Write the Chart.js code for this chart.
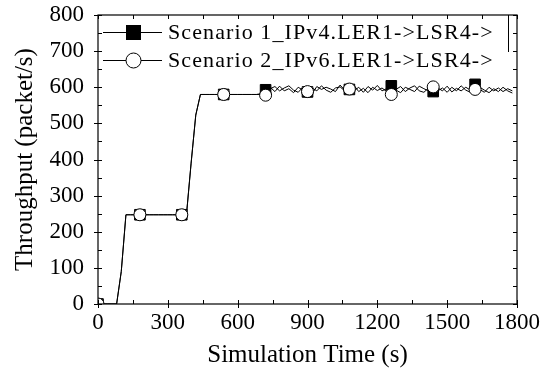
<!DOCTYPE html>
<html><head><meta charset="utf-8">
<script src="https://cdn.jsdelivr.net/npm/chart.js@4/dist/chart.umd.min.js"></script>
<style>html,body{margin:0;padding:0;background:#fff}#wrap{width:553px;height:372px}</style>
</head><body><div id="wrap"><canvas id="c" width="553" height="372"></canvas></div>
<script>
const times = [0,20,40,60,80,100,120,140,160,180,200,220,240,260,280,300,320,340,360,380,
  400,420,440,460,480,500,520,540,560,580,600,620,640,660,680,700,720,740,760,780,
  800,820,840,860,880,900,920,940,960,980,1000,1020,1040,1060,1080,1100,1120,1140,1160,1180,
  1200,1220,1240,1260,1280,1300,1320,1340,1360,1380,1400,1420,1440,1460,1480,1500,1520,1540,1560,1580,
  1600,1620,1640,1660,1680,1700,1720,1740,1760,1780];
const series1Label = 'Scenario 1_IPv4.LER1->LSR4->';
const series2Label = 'Scenario 2_IPv6.LER1->LSR4->';
const series1 = [0,0,0,0,0,90,247,247,247,247,247,247,247,247,247,247,247,247,247,247,
  390,523,580,580,580,580,580,580,580,580,580,580,580,580,580,
  582,593,600,588,603, 590,596,585,600,592, 587,598,590,604,592, 586,598,601,590,594,
  605,588,597,585,600, 591,598,588,604,592, 585,600,594,588,603, 596,590,588,598,590,
  603,587,597,590,600, 592,608,594,586,600, 590,598,588,596,590];
const series2 = [0,0,0,0,0,90,247,247,247,247,247,247,247,247,247,247,247,247,247,247,
  390,523,580,580,580,580,580,580,580,580,580,580,580,580,580,
  580,578,596,602,590, 598,604,592,586,600, 588,582,602,594,600, 595,588,606,592,595,
  590,600,586,602,592, 605,590,596,580,594, 602,588,598,604,590, 586,598,601,590,598,
  586,600,590,604,592, 586,594,600,592,585, 596,588,600,590,584];
const xTicks = [0,300,600,900,1200,1500,1800];
const yTicks = [0,100,200,300,400,500,600,700,800];
const xTitle = 'Simulation Time (s)';
const yTitle = 'Throughput (packet/s)';

const FONT = "'Liberation Serif', 'Times New Roman', serif";
const markEvery = 9;

const framePlugin = {
  id: 'frame',
  afterDraw(chart) {
    const {ctx, chartArea: a, scales: {x, y}} = chart;
    ctx.save();
    ctx.strokeStyle = '#000';
    ctx.lineWidth = 1.2;
    ctx.strokeRect(a.left, a.top, a.right - a.left, a.bottom - a.top);
    ctx.lineWidth = 1;
    ctx.beginPath();
    for (let v = 0; v <= 1800; v += 150) {
      const px = Math.round(x.getPixelForValue(v)) + 0.5;
      ctx.moveTo(px, a.bottom); ctx.lineTo(px, a.bottom - 4);
      ctx.moveTo(px, a.top); ctx.lineTo(px, a.top + 4);
      if (xTicks.includes(v)) { ctx.moveTo(px, a.bottom); ctx.lineTo(px, a.bottom + 4); }
    }
    for (let v = 0; v <= 800; v += 50) {
      const py = Math.round(y.getPixelForValue(v)) + 0.5;
      ctx.moveTo(a.left, py); ctx.lineTo(a.left + 4, py);
      ctx.moveTo(a.right, py); ctx.lineTo(a.right - 4, py);
      if (yTicks.includes(v)) { ctx.moveTo(a.left, py); ctx.lineTo(a.left - 4, py); }
    }
    ctx.stroke();
    // legend
    const rows = [
      {label: series1Label, style: 'rect', y: 32},
      {label: series2Label, style: 'circle', y: 60}
    ];
    ctx.beginPath();
    ctx.moveTo(508.5, a.top); ctx.lineTo(508.5, 52);
    ctx.stroke();
    rows.forEach(r => {
      ctx.beginPath();
      ctx.lineWidth = 1;
      ctx.moveTo(103, r.y + 0.5); ctx.lineTo(162, r.y + 0.5);
      ctx.stroke();
      if (r.style === 'rect') {
        ctx.fillStyle = '#000';
        ctx.fillRect(126, r.y - 7, 15, 15);
      } else {
        ctx.beginPath();
        ctx.fillStyle = '#fff';
        ctx.arc(133.5, r.y + 0.5, 7.5, 0, Math.PI * 2);
        ctx.fill(); ctx.stroke();
      }
      ctx.fillStyle = '#000';
      ctx.font = '22px ' + FONT;
      ctx.textBaseline = 'middle';
      ctx.textAlign = 'left';
      ctx.letterSpacing = '1.1px';
      ctx.fillText(r.label, 168, r.y + 1);
      ctx.letterSpacing = '0px';
    });
    ctx.restore();
  }
};

new Chart(document.getElementById('c'), {
  type: 'line',
  data: {
    labels: times,
    datasets: [
      {
        label: series2Label,
        data: times.map((t, i) => ({x: t, y: series2[i]})),
        borderColor: '#000', borderWidth: 1,
        pointStyle: 'circle',
        pointRadius: c => (c.dataIndex % markEvery === 0 ? 6 : 0),
        pointBackgroundColor: '#fff', pointBorderColor: '#000', pointBorderWidth: 1,
        tension: 0
      },
      {
        label: series1Label,
        data: times.map((t, i) => ({x: t, y: series1[i]})),
        borderColor: '#000', borderWidth: 1,
        pointStyle: 'rect',
        pointRadius: c => (c.dataIndex % markEvery === 0 ? 7.5 : 0),
        pointBackgroundColor: '#000', pointBorderColor: '#000', pointBorderWidth: 1,
        tension: 0
      }
    ]
  },
  options: {
    responsive: false,
    animation: false,
    devicePixelRatio: 1,
    layout: {padding: {top: 15, right: 36, left: 0, bottom: 0}},
    plugins: {legend: {display: false}, tooltip: {enabled: false}},
    scales: {
      x: {
        type: 'linear', min: 0, max: 1800,
        afterBuildTicks: s => { s.ticks = xTicks.map(v => ({value: v})); },
        afterFit: s => { s.height = 68; s.paddingLeft = 0; s.paddingRight = 0; },
        grid: {display: false, drawTicks: false},
        border: {display: false},
        ticks: {color: '#000', padding: 5, maxRotation: 0, callback: v => String(v), font: {family: FONT, size: 23}},
        title: {display: true, text: xTitle, color: '#000', padding: {top: 0, bottom: 2}, font: {family: FONT, size: 25}}
      },
      y: {
        type: 'linear', min: 0, max: 800,
        afterBuildTicks: s => { s.ticks = yTicks.map(v => ({value: v})); },
        afterFit: s => { s.width = 98; s.paddingTop = 0; s.paddingBottom = 0; },
        grid: {display: false, drawTicks: false},
        border: {display: false},
        ticks: {color: '#000', padding: 14, callback: v => String(v), font: {family: FONT, size: 23}},
        title: {display: true, text: yTitle, color: '#000', padding: {top: 10, bottom: 0}, font: {family: FONT, size: 25}}
      }
    }
  },
  plugins: [framePlugin]
});
</script>
</body></html>
